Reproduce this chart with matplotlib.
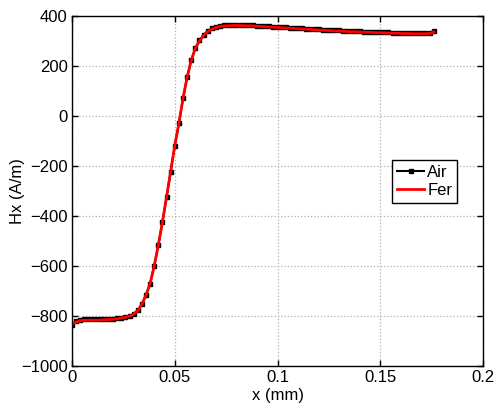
import matplotlib
matplotlib.use('Agg')
from matplotlib import pyplot as plt

plt.rc('font', family=['Liberation Sans', 'DejaVu Sans'], size=12)

# x positions (mm), one sample every 0.002 mm
x = [0.000, 0.002, 0.004, 0.006, 0.008, 0.010, 0.012, 0.014, 0.016, 0.018,
     0.020, 0.022, 0.024, 0.026, 0.028, 0.030, 0.032, 0.034, 0.036, 0.038,
     0.040, 0.042, 0.044, 0.046, 0.048, 0.050, 0.052, 0.054, 0.056, 0.058,
     0.060, 0.062, 0.064, 0.066, 0.068, 0.070, 0.072, 0.074, 0.076, 0.078,
     0.080, 0.082, 0.084, 0.086, 0.088, 0.090, 0.092, 0.094, 0.096, 0.098,
     0.100, 0.102, 0.104, 0.106, 0.108, 0.110, 0.112, 0.114, 0.116, 0.118,
     0.120, 0.122, 0.124, 0.126, 0.128, 0.130, 0.132, 0.134, 0.136, 0.138,
     0.140, 0.142, 0.144, 0.146, 0.148, 0.150, 0.152, 0.154, 0.156, 0.158,
     0.160, 0.162, 0.164, 0.166, 0.168, 0.170, 0.172, 0.174, 0.176]

hx_air = [-835, -818, -814, -813, -813, -813, -813, -813, -812, -811,
          -810, -808, -806, -803, -800, -791, -777, -752, -716, -670,
          -600, -516, -424, -324, -222, -118, -30, 70, 155, 222,
          272, 302, 325, 340, 350, 356, 360, 362, 363, 364,
          364, 364, 363, 363, 362, 361, 360, 359, 358, 357,
          356, 355, 354, 353, 352, 351, 350, 349, 348, 347,
          346, 345, 344, 343, 342, 342, 341, 340, 339, 339,
          338, 337, 337, 336, 335, 335, 334, 334, 333, 333,
          332, 332, 332, 331, 331, 331, 331, 332, 340]

hx_fer = [-832, -824, -819, -817, -817, -817, -817, -816, -815, -814,
          -813, -811, -808, -805, -801, -793, -778, -753, -717, -670,
          -600, -516, -424, -324, -222, -118, -30, 70, 155, 222,
          271, 300, 322, 337, 347, 354, 358, 360, 361, 362,
          362, 362, 361, 361, 360, 359, 358, 357, 356, 355,
          354, 353, 352, 351, 350, 349, 348, 347, 346, 345,
          344, 343, 342, 341, 340, 340, 339, 338, 337, 337,
          336, 335, 335, 334, 333, 333, 332, 332, 331, 331,
          330, 330, 330, 329, 329, 329, 329, 330, 336]

fig = plt.figure(figsize=(4.95, 4.09), dpi=100)
ax = fig.add_axes([0.1455, 0.1051, 0.8303, 0.8558])

ax.plot(x, hx_air, color='black', linewidth=1.5, marker='s', markersize=3.5, label='Air')
ax.plot(x, hx_fer, color='red', linewidth=2, label='Fer')

ax.set_xlim(0, 0.2)
ax.set_ylim(-1000, 400)
ax.set_xticks([0, 0.05, 0.1, 0.15, 0.2])
ax.set_xticklabels(['0', '0.05', '0.1', '0.15', '0.2'])
ax.set_yticks(range(-1000, 401, 200))
ax.set_yticklabels([str(v).replace('-', '\u2212') for v in range(-1000, 401, 200)])
ax.tick_params(direction='in', top=True, right=True, length=4, width=1, pad=3)
ax.grid(True, color='#b0b0b0', linestyle=':', linewidth=0.9)
for s in ax.spines.values():
    s.set_linewidth(1)

ax.set_xlabel('x (mm)', labelpad=2)
ax.set_ylabel('Hx (A/m)')
ax.yaxis.set_label_coords(-0.114, 0.5)

leg = ax.legend(loc='upper left', bbox_to_anchor=(0.779, 0.589), handlelength=1.6,
                handletextpad=0.2, borderpad=0.3, labelspacing=0.2, borderaxespad=0,
                fancybox=False, framealpha=1, edgecolor='black', fontsize=12)
leg.get_frame().set_linewidth(1)

plt.savefig('out.png', dpi=100)
